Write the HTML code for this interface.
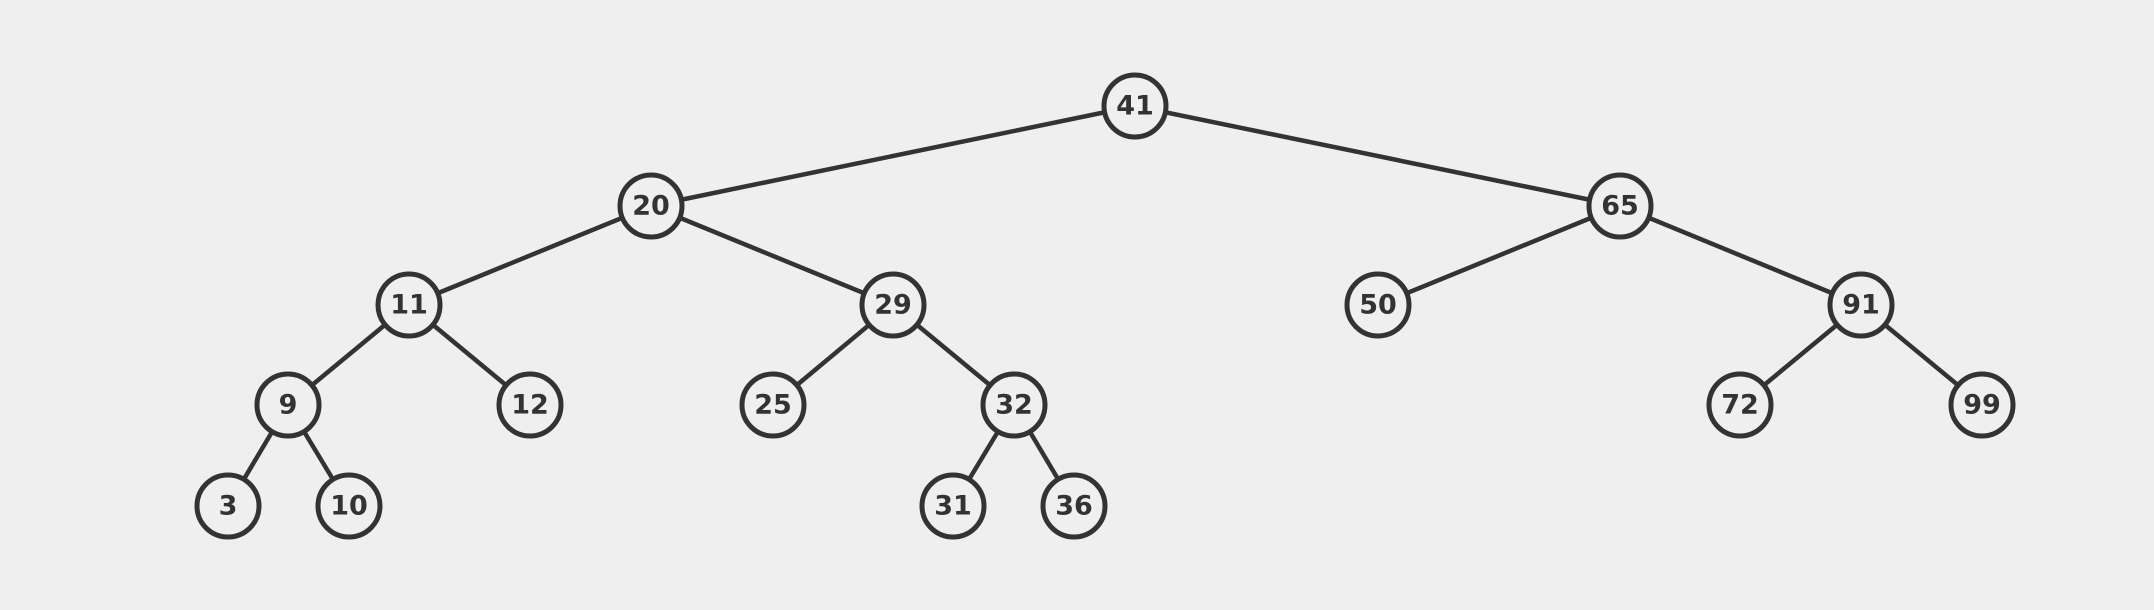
<!DOCTYPE html>
<html><head><style>html,body{margin:0;padding:0;background:#efefef;}</style></head>
<body>
<svg width="2154" height="610" xmlns="http://www.w3.org/2000/svg" style="display:block">
<rect width="2154" height="610" fill="#efefef"/>
<g stroke="#333" stroke-width="4.5" fill="none">
<line x1="1135" y1="106" x2="651" y2="206"/>
<line x1="1135" y1="106" x2="1620" y2="206"/>
<line x1="651" y1="206" x2="409" y2="305"/>
<line x1="651" y1="206" x2="893" y2="305"/>
<line x1="1620" y1="206" x2="1378" y2="305"/>
<line x1="1620" y1="206" x2="1861" y2="305"/>
<line x1="409" y1="305" x2="288" y2="405"/>
<line x1="409" y1="305" x2="530" y2="405"/>
<line x1="893" y1="305" x2="773" y2="405"/>
<line x1="893" y1="305" x2="1014" y2="405"/>
<line x1="1861" y1="305" x2="1740" y2="405"/>
<line x1="1861" y1="305" x2="1982" y2="405"/>
<line x1="288" y1="405" x2="228" y2="506"/>
<line x1="288" y1="405" x2="349" y2="506"/>
<line x1="1014" y1="405" x2="953" y2="506"/>
<line x1="1014" y1="405" x2="1074" y2="506"/>
</g>
<g stroke="#333" stroke-width="5" fill="#efefef">
<circle cx="1135" cy="106" r="31"/><circle cx="651" cy="206" r="31"/><circle cx="1620" cy="206" r="31"/>
<circle cx="409" cy="305" r="31"/><circle cx="893" cy="305" r="31"/><circle cx="1378" cy="305" r="31"/><circle cx="1861" cy="305" r="31"/>
<circle cx="288" cy="405" r="31"/><circle cx="530" cy="405" r="31"/><circle cx="773" cy="405" r="31"/><circle cx="1014" cy="405" r="31"/><circle cx="1740" cy="405" r="31"/><circle cx="1982" cy="405" r="31"/>
<circle cx="228" cy="506" r="31"/><circle cx="349" cy="506" r="31"/><circle cx="953" cy="506" r="31"/><circle cx="1074" cy="506" r="31"/>
</g>
<g font-family="'DejaVu Sans','Liberation Sans',sans-serif" font-weight="bold" font-size="27" fill="#333" text-anchor="middle" dominant-baseline="central">
<text x="1135" y="106">41</text><text x="651" y="206">20</text><text x="1620" y="206">65</text>
<text x="409" y="305">11</text><text x="893" y="305">29</text><text x="1378" y="305">50</text><text x="1861" y="305">91</text>
<text x="288" y="405">9</text><text x="530" y="405">12</text><text x="773" y="405">25</text><text x="1014" y="405">32</text><text x="1740" y="405">72</text><text x="1982" y="405">99</text>
<text x="228" y="506">3</text><text x="349" y="506">10</text><text x="953" y="506">31</text><text x="1074" y="506">36</text>
</g>
</svg>
</body></html>
